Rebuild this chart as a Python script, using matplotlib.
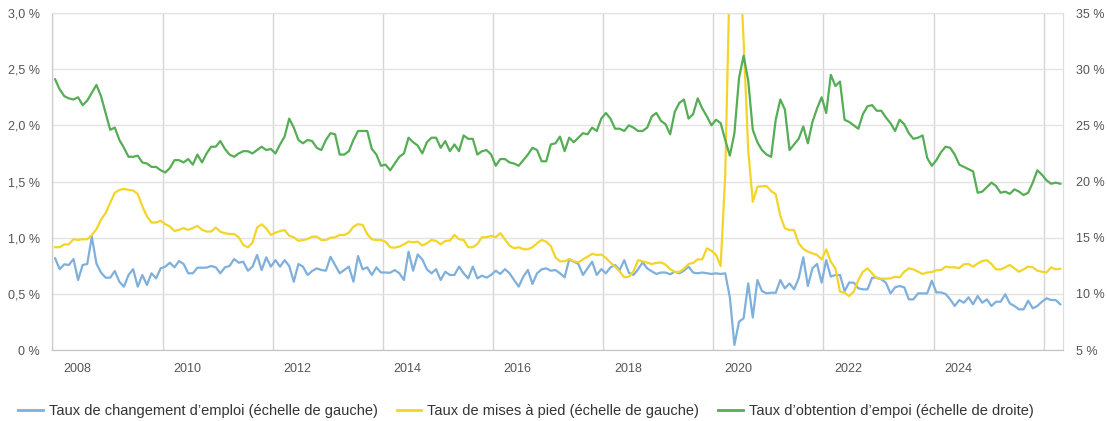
import numpy as np
import pandas as pd
import matplotlib
matplotlib.use('Agg')
import matplotlib.pyplot as plt
from matplotlib.lines import Line2D

# monthly series, Jan 2008 onwards
months = pd.date_range('2008-01-01', periods=220, freq='MS')

# Taux de changement d'emploi (left axis, %)
job_change = [
    0.816, 0.72, 0.763, 0.757, 0.81, 0.623, 0.757, 0.766, 1.009, 0.77,
    0.69, 0.644, 0.644, 0.703, 0.608, 0.564, 0.668, 0.72, 0.564, 0.668,
    0.579, 0.683, 0.638, 0.727, 0.742, 0.777, 0.736, 0.792, 0.766, 0.683,
    0.683, 0.733, 0.733, 0.733, 0.748, 0.736, 0.683,
    0.736, 0.748, 0.81, 0.777, 0.786, 0.706, 0.742, 0.846, 0.712, 0.825,
    0.742, 0.80, 0.742, 0.80, 0.748, 0.608, 0.766, 0.742, 0.668, 0.703,
    0.727, 0.712, 0.706, 0.83, 0.757, 0.683, 0.712, 0.742, 0.608, 0.837,
    0.718, 0.736, 0.668, 0.736, 0.69, 0.69,
    0.688, 0.712, 0.683, 0.623, 0.875, 0.706, 0.851, 0.807, 0.718, 0.683,
    0.72, 0.623, 0.697, 0.668, 0.668, 0.742, 0.683, 0.638, 0.742, 0.638,
    0.662, 0.644, 0.668, 0.706, 0.677, 0.72, 0.683, 0.623, 0.564, 0.653,
    0.712, 0.588, 0.683, 0.718,
    0.727, 0.706, 0.712, 0.683, 0.647, 0.807, 0.786, 0.766, 0.668, 0.727,
    0.786, 0.668, 0.72, 0.683, 0.736, 0.757, 0.712, 0.80, 0.688, 0.668,
    0.718, 0.78, 0.727, 0.70, 0.677, 0.69, 0.69, 0.674, 0.697, 0.683,
    0.706, 0.742, 0.69, 0.683, 0.69, 0.683, 0.677, 0.683,
    0.677, 0.683, 0.47, 0.045, 0.252, 0.282, 0.593, 0.29, 0.623, 0.525,
    0.504, 0.51, 0.51, 0.623, 0.549, 0.593, 0.54, 0.638, 0.825, 0.57,
    0.727, 0.766, 0.60, 0.80, 0.653, 0.668, 0.668, 0.525, 0.60, 0.60,
    0.549, 0.54, 0.54, 0.644, 0.644,
    0.629, 0.60, 0.504, 0.558, 0.57, 0.558, 0.451, 0.451, 0.504, 0.504,
    0.504, 0.617, 0.513, 0.513, 0.499, 0.451, 0.392, 0.445, 0.421, 0.469,
    0.407, 0.481, 0.421, 0.451, 0.392, 0.43, 0.43, 0.496, 0.415, 0.392,
    0.362, 0.362, 0.439, 0.371, 0.392, 0.43, 0.46, 0.445, 0.445, 0.407,
]

# Taux de mises a pied (left axis, %)
layoffs = [
    0.915, 0.915, 0.94, 0.94, 0.986, 0.98, 0.986, 0.986, 1.025, 1.075,
    1.16, 1.22, 1.31, 1.40, 1.425, 1.435, 1.425, 1.42, 1.39, 1.28,
    1.19, 1.135, 1.135, 1.15, 1.12, 1.10, 1.06, 1.07, 1.085, 1.07,
    1.085, 1.105, 1.07, 1.055, 1.055, 1.09, 1.053, 1.039, 1.033, 1.033,
    1.003, 0.935, 0.914, 0.955, 1.09, 1.119, 1.083, 1.024, 1.044, 1.059,
    1.068, 1.018, 1.003, 0.973, 0.979, 0.988, 1.009, 1.009, 0.979, 0.979,
    1.0, 1.003, 1.024, 1.024, 1.044, 1.098, 1.12, 1.113, 1.033, 0.985,
    0.979, 0.979, 0.964, 0.915, 0.911,
    0.921, 0.941, 0.965, 0.959, 0.965, 0.93, 0.95, 0.98, 0.971, 0.941,
    0.971, 0.974, 1.025, 0.986, 0.98, 0.915, 0.915, 0.944, 1.004, 1.004,
    1.016, 1.004, 1.04, 0.986, 0.93, 0.906, 0.915, 0.897, 0.897, 0.915,
    0.95, 0.98,
    0.964, 0.926, 0.825, 0.79, 0.79, 0.81, 0.79, 0.78, 0.807, 0.83,
    0.857, 0.846, 0.85, 0.82, 0.777, 0.742, 0.70, 0.647, 0.653, 0.70,
    0.80, 0.79, 0.777, 0.766, 0.775, 0.78, 0.76, 0.72, 0.695, 0.695,
    0.724, 0.766, 0.775, 0.807, 0.807, 0.905, 0.884, 0.846,
    0.748, 1.56, 3.4, 4.0, 3.6, 2.76, 1.78,
    1.32, 1.454, 1.457, 1.46, 1.415, 1.386, 1.193, 1.083, 1.068, 1.068,
    0.95, 0.90, 0.875, 0.86, 0.846, 0.807, 0.896, 0.786, 0.727, 0.52,
    0.51, 0.48, 0.52, 0.623, 0.697, 0.727, 0.683, 0.638,
    0.635, 0.635, 0.638, 0.653, 0.647, 0.697, 0.727, 0.718, 0.697, 0.677,
    0.69, 0.694, 0.71, 0.712, 0.742, 0.736, 0.736, 0.73, 0.763, 0.766,
    0.742, 0.77, 0.792, 0.80, 0.766, 0.718, 0.718, 0.736, 0.757, 0.727,
    0.697, 0.718, 0.742, 0.736, 0.706, 0.697, 0.69, 0.736, 0.718, 0.724,
]

# Taux d'obtention d'empoi (right axis, %)
job_finding = [
    29.1, 28.2, 27.6, 27.4, 27.3, 27.5, 26.8, 27.2, 27.9, 28.6,
    27.6, 26.1, 24.6, 24.8, 23.7, 23.0, 22.2, 22.2, 22.3, 21.7,
    21.6, 21.3, 21.3, 21.0, 20.8, 21.2, 21.9, 21.9, 21.7, 22.0,
    21.5, 22.4, 21.7, 22.5, 23.1, 23.1, 23.6, 22.9, 22.4, 22.2,
    22.5, 22.7, 22.7, 22.5, 22.8, 23.1, 22.8, 22.9, 22.5, 23.3,
    24.0, 25.6, 24.8, 23.7, 23.4, 23.7, 23.6, 23.0, 22.8, 23.7,
    24.3, 24.2, 22.4, 22.4, 22.7, 23.7, 24.5, 24.5, 24.5, 22.9,
    22.4, 21.4, 21.5, 21.0, 21.6, 22.2,
    22.5, 23.9, 23.5, 23.2, 22.5, 23.5, 23.9, 23.9, 23.0, 23.6,
    22.7, 23.3, 22.7, 24.1, 23.8, 23.8, 22.4, 22.7, 22.8, 22.4,
    21.4, 22.0, 22.0, 21.7, 21.6, 21.4, 21.9, 22.4, 23.0, 22.8,
    21.8, 21.8, 23.3, 23.4, 24.0, 22.7, 23.9, 23.5, 23.9, 24.3,
    24.2, 24.8, 24.5, 25.6, 26.1, 25.6, 24.7, 24.7, 24.5, 25.0,
    24.8, 24.5, 24.5, 24.8, 25.8, 26.1, 25.4, 25.1, 24.2, 26.2,
    27.0, 27.3, 25.6, 26.0, 27.4, 26.5, 25.8,
    25.0, 25.5, 25.2, 23.7, 22.3, 24.3, 29.2, 31.2, 29.0, 24.6,
    23.5, 22.8, 22.4, 22.2, 25.5, 27.3, 26.4, 22.8, 23.3, 23.8,
    24.9, 23.4, 25.3, 26.5, 27.5, 26.1, 29.5, 28.5, 28.9, 25.5,
    25.3, 25.0, 24.7, 26.0, 26.7, 26.8, 26.3,
    26.3, 25.7, 25.2, 24.5, 25.5, 25.1, 24.3, 23.8, 23.9, 24.1,
    22.1, 21.4, 21.9, 22.6, 23.1, 23.0, 22.4, 21.5, 21.3, 21.1,
    20.9, 19.0, 19.1, 19.5, 19.9, 19.6, 19.0, 19.1, 18.9, 19.3,
    19.1, 18.8, 19.0, 19.9, 21.0, 20.6, 20.1, 19.8, 19.9, 19.8,
]

year_labels = ['2008', '2010', '2012', '2014', '2016', '2018', '2020', '2022', '2024']
left_ticks = [0, 0.5, 1.0, 1.5, 2.0, 2.5, 3.0]
left_tick_labels = ['0 %', '0,5 %', '1,0 %', '1,5 %', '2,0 %', '2,5 %', '3,0 %']
right_ticks = [5, 10, 15, 20, 25, 30, 35]
right_tick_labels = ['5 %', '10 %', '15 %', '20 %', '25 %', '30 %', '35 %']
series_names = ["Taux de changement d\u2019emploi (\u00e9chelle de gauche)",
                "Taux de mises \u00e0 pied (\u00e9chelle de gauche)",
                "Taux d\u2019obtention d\u2019empoi (\u00e9chelle de droite)"]

plt.rcParams['font.family'] = ['Liberation Sans', 'DejaVu Sans']

blue = '#7fb0dc'
yellow = '#f3d52a'
green = '#55ad55'
grid_col = '#e3e3e3'
text_col = '#555555'

fig = plt.figure(figsize=(11.07, 4.21), dpi=100)
ax = fig.add_axes([0.0473, 0.1686, 0.9130, 0.8005])
ax2 = ax.twinx()

# x in months since Jan 2008
t = (months.year - 2008) * 12 + (months.month - 1) + 0.6

ax.plot(t, job_change, color=blue, lw=1.6, solid_joinstyle='round')
ax.plot(t, layoffs, color=yellow, lw=1.6, solid_joinstyle='round')
ax2.plot(t, job_finding, color=green, lw=1.6, solid_joinstyle='round')

ax.set_xlim(0, 220.2)
ax.set_ylim(0, 3.0)
ax2.set_ylim(5, 35)

# gridlines at each even January, labels in the middle of the year
grid_x = [(int(y) - 2008) * 12 for y in year_labels] + [216]
label_x = [(int(y) - 2008) * 12 + 5.4 for y in year_labels]
ax.set_xticks(grid_x)
ax.set_xticklabels([])
ax.set_xticks(label_x, minor=True)
ax.set_xticklabels(year_labels, minor=True)
ax.tick_params(axis='x', which='both', length=0)
ax.tick_params(axis='x', which='minor', pad=9, labelsize=9, labelcolor=text_col)
ax.xaxis.grid(True, which='major', color='#d6d6d6', lw=1.0)

ax.set_yticks(left_ticks)
ax.set_yticklabels(left_tick_labels)
ax.tick_params(axis='y', length=0, pad=9, labelsize=9, labelcolor=text_col)
ax.yaxis.grid(True, color=grid_col, lw=1.0)
ax.set_axisbelow(True)

ax2.set_yticks(right_ticks)
ax2.set_yticklabels(right_tick_labels)
ax2.tick_params(axis='y', length=0, pad=9, labelsize=9, labelcolor=text_col)

for a in (ax, ax2):
    a.spines['top'].set_color(grid_col)
    a.spines['left'].set_color('#cccccc')
    a.spines['right'].set_color('#dddddd')
    a.spines['bottom'].set_color('#c4c4c4')

handles = [Line2D([], [], color=c, lw=2) for c in (blue, yellow, green)]
fig.legend(handles, series_names, loc='lower center', bbox_to_anchor=(0.475, -0.024),
           ncol=3, frameon=False, fontsize=10.5, handlelength=1.7, handletextpad=0.4,
           columnspacing=1.3, labelcolor='#333333')

plt.savefig('out.png', dpi=100)
